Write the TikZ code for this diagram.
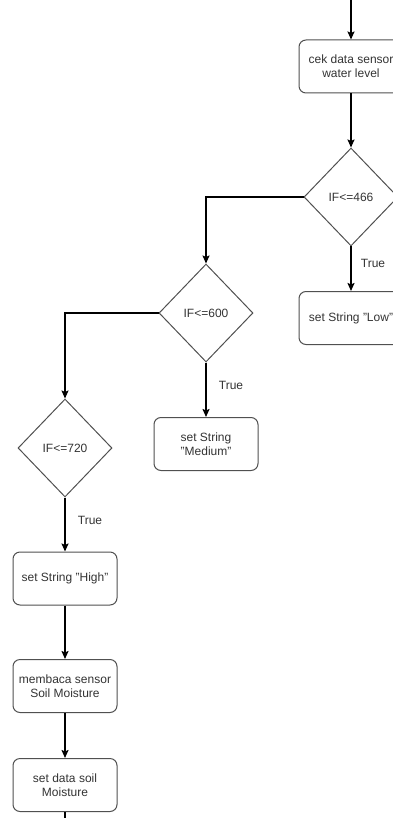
\documentclass[tikz,border=0pt]{standalone}
\usepackage{fontspec}
\setmainfont{Liberation Sans}
\usetikzlibrary{positioning, arrows.meta, shapes.geometric}
\definecolor{shapeline}{HTML}{505050}
\definecolor{txt}{HTML}{333333}
\tikzset{%
	>={Stealth[length=8pt, width=7pt, inset=1.5pt]},
	flow/.style = {draw = black, line width = 1.6pt, ->},
	proc/.style = {name = #1, rectangle, rounded corners = 7pt, draw = shapeline, line width = 1pt,
		minimum width = 104pt, minimum height = 53pt, align = center, text = txt,
		font = \fontsize{12}{14}\selectfont},
	cond/.style = {name = #1, diamond, draw = shapeline, line width = 1pt,
		minimum width = 94pt, minimum height = 98pt, inner sep = 0pt, text = txt,
		font = \fontsize{12}{14}\selectfont},
	yes/.style = {text = txt, font = \fontsize{12}{14}\selectfont}
}
\begin{document}
\begin{tikzpicture}[x=1pt, y=-1pt]
			\useasboundingbox (0,0) rectangle (392,818);
			\coordinate (start) at (351,0);
			\coordinate (end) at (65,818);
			\node [proc = {cek}] at (351,66.5) {cek data sensor\\water level};
			\node [cond = {d466}] at (351,197) {IF<=466};
			\node [proc = {low}] at (351,318) {set String "Low"};
			\node [cond = {d600}] at (206,313) {IF<=600};
			\node [proc = {medium}] at (206,444) {set String\\"Medium"};
			\node [cond = {d720}] at (65,448) {IF<=720};
			\node [proc = {high}] at (65,578.5) {set String "High"};
			\node [proc = {baca}] at (65,686) {membaca sensor\\Soil Moisture};
			\node [proc = {soil}] at (65,785) {set data soil\\Moisture};
			\node [yes] at (373,263) {True};
			\node [yes] at (231,385) {True};
			\node [yes] at (90,520) {True};
			\draw [flow] (start) -- (cek);
			\draw [flow] (cek) -- (d466);
			\draw [flow] (d466) -- (low);
			\draw [flow] (d466.west) -| (d600.north);
			\draw [flow] (d600) -- (medium);
			\draw [flow] (d600.west) -| (d720.north);
			\draw [flow] (d720) -- (high);
			\draw [flow] (high) -- (baca);
			\draw [flow] (baca) -- (soil);
			\draw [flow, -] (soil) -- (end);
			\end{tikzpicture}
\end{document}
